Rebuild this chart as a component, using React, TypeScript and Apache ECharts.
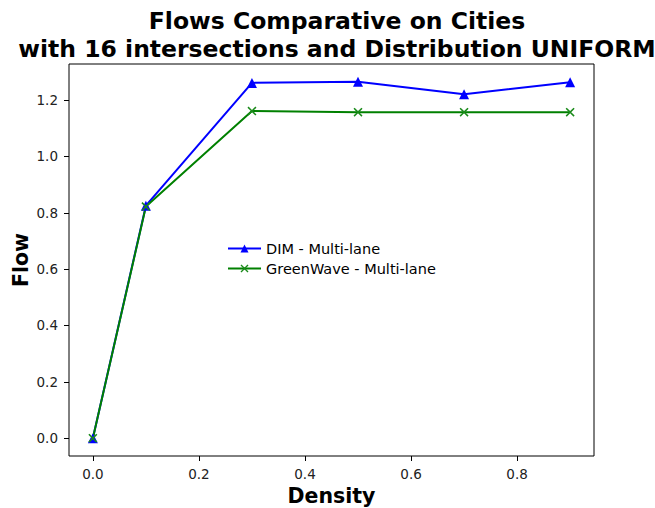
import React, { useEffect, useRef } from "react";
import * as echarts from "echarts";

const density = [0.0, 0.1, 0.3, 0.5, 0.7, 0.9];
const dimFlow = [0.0, 0.825, 1.261, 1.265, 1.221, 1.263];
const greenWaveFlow = [0.0, 0.822, 1.161, 1.157, 1.157, 1.157];
const xTicks = [0.0, 0.2, 0.4, 0.6, 0.8];
const yTicks = [0.0, 0.2, 0.4, 0.6, 0.8, 1.0, 1.2];
const seriesNames = ["DIM - Multi-lane", "GreenWave - Multi-lane"];
const titleLines = [
  "Flows Comparative on Cities",
  "with 16 intersections and Distribution UNIFORM",
];

const X_SYMBOL =
  "path://M0,1.2L1.2,0L5,3.8L8.8,0L10,1.2L6.2,5L10,8.8L8.8,10L5,6.2L1.2,10L0,8.8L3.8,5Z";

export default function App() {
  const ref = useRef<HTMLDivElement>(null);
  useEffect(() => {
    if (!ref.current) return;
    const chart = echarts.init(ref.current, undefined, { renderer: "svg" });
    const font = "DejaVu Sans";
    const axisCommon = {
      axisLine: { show: false, onZero: false },
      splitLine: { show: false },
      nameMoveOverlap: false,
    };
    chart.setOption({
      animation: false,
      backgroundColor: "#fff",
      textStyle: { fontFamily: font },
      title: {
        text: titleLines.join("\n"),
        left: 332,
        textAlign: "center",
        top: 2,
        textStyle: {
          fontFamily: font,
          fontWeight: "bold",
          fontSize: 23.5,
          lineHeight: 28,
          color: "#000",
        },
      },
      grid: {
        left: 69,
        top: 64,
        right: 61,
        bottom: 52,
        containLabel: false,
        outerBoundsMode: "none",
        show: true,
        borderColor: "#000",
        borderWidth: 1,
        backgroundColor: "transparent",
      },
      legend: {
        orient: "vertical",
        left: 222,
        top: 236,
        itemWidth: 33,
        itemHeight: 10,
        itemGap: 5,
        textStyle: { fontFamily: font, fontSize: 14.5, color: "#000" },
        data: seriesNames,
      },
      xAxis: {
        type: "value",
        min: -0.045,
        max: 0.945,
        name: "Density",
        nameLocation: "middle",
        nameGap: 29,
        nameTextStyle: { fontFamily: font, fontWeight: "bold", fontSize: 20.5, color: "#000" },
        ...axisCommon,
        axisTick: {
          show: true,
          inside: false,
          length: 5,
          customValues: xTicks,
          lineStyle: { color: "#000", width: 1 },
        },
        axisLabel: {
          customValues: xTicks,
          fontFamily: font,
          fontSize: 13.5,
          color: "#222",
          margin: 11,
          formatter: (v: number) => v.toFixed(1),
        },
      },
      yAxis: {
        type: "value",
        min: -0.0633,
        max: 1.328,
        name: "Flow",
        nameLocation: "middle",
        nameGap: 38,
        nameTextStyle: { fontFamily: font, fontWeight: "bold", fontSize: 20.5, color: "#000" },
        ...axisCommon,
        axisTick: {
          show: true,
          inside: false,
          length: 5,
          customValues: yTicks,
          lineStyle: { color: "#000", width: 1 },
        },
        axisLabel: {
          customValues: yTicks,
          fontFamily: font,
          fontSize: 13.5,
          color: "#222",
          margin: 11,
          formatter: (v: number) => v.toFixed(1),
        },
      },
      series: [
        {
          name: seriesNames[0],
          type: "line",
          data: density.map((d, i) => [d, dimFlow[i]]),
          symbol: "triangle",
          symbolSize: 10,
          lineStyle: { color: "#0000ff", width: 2 },
          itemStyle: { color: "#0000ff" },
        },
        {
          name: seriesNames[1],
          type: "line",
          data: density.map((d, i) => [d, greenWaveFlow[i]]),
          symbol: X_SYMBOL,
          symbolSize: 9,
          lineStyle: { color: "#008000", width: 2 },
          itemStyle: { color: "#1a8a1a" },
        },
      ],
    });
    return () => chart.dispose();
  }, []);
  return <div ref={ref} style={{ width: 655, height: 508, position: "absolute", left: 0, top: 0 }} />;
}
